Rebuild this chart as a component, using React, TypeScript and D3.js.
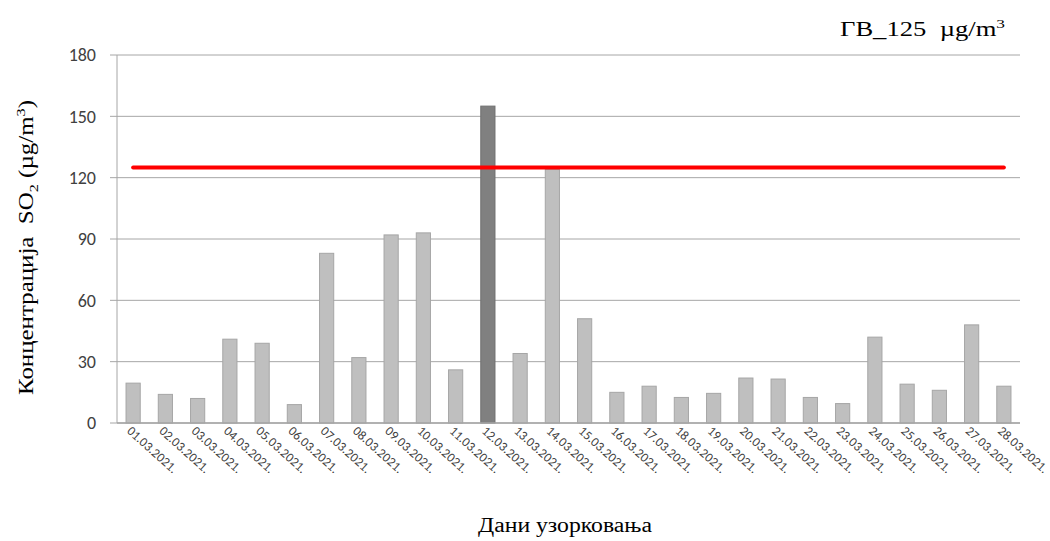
import React from "react";
import * as d3 from "d3";

const dates = [
  "01.03.2021.", "02.03.2021.", "03.03.2021.", "04.03.2021.", "05.03.2021.", "06.03.2021.", "07.03.2021.",
  "08.03.2021.", "09.03.2021.", "10.03.2021.", "11.03.2021.", "12.03.2021.", "13.03.2021.", "14.03.2021.",
  "15.03.2021.", "16.03.2021.", "17.03.2021.", "18.03.2021.", "19.03.2021.", "20.03.2021.", "21.03.2021.",
  "22.03.2021.", "23.03.2021.", "24.03.2021.", "25.03.2021.", "26.03.2021.", "27.03.2021.", "28.03.2021.",
];
const so2 = [19.5, 14, 12, 41, 39, 9, 83, 32, 92, 93, 26, 155, 34, 124, 51, 15, 18, 12.5, 14.5, 22, 21.5, 12.5, 9.5, 42, 19, 16, 48, 18];
const highlighted = ["12.03.2021."];
const limitValue = 125;
const yTicks = [0, 30, 60, 90, 120, 150, 180];

export default function App() {
  const W = 1050, H = 541;
  const left = 117, right = 1020, top = 55, bottom = 423;
  const x = d3.scaleBand<string>().domain(dates).range([left, right]).paddingInner(0.56).paddingOuter(0.28);
  const y = d3.scaleLinear().domain([0, 180]).range([bottom, top]);
  const line = d3.line<string>().x((d) => (x(d) as number) + x.bandwidth() / 2).y(() => y(limitValue));
  const grid = "#a6a6a6";
  const serif = "'Liberation Serif', 'Times New Roman', serif";
  const sans = "Carlito, 'Liberation Sans', Arial, sans-serif";
  return (
    <svg width={W} height={H} style={{ position: "absolute", left: 0, top: 0, background: "#fff" }}>
      {yTicks.map((t) => (
        <g key={t}>
          <line x1={left - 7} x2={right} y1={y(t)} y2={y(t)} stroke={grid} strokeWidth={1} />
          <text x={96} y={y(t)} dy="0.35em" textAnchor="end" fontFamily={sans} fontSize={18} fill="#404040">
            {t}
          </text>
        </g>
      ))}
      <line x1={left} x2={left} y1={top} y2={bottom} stroke={grid} strokeWidth={1} />
      {dates.map((d, i) => (
        <rect
          key={d}
          x={x(d)}
          y={y(so2[i])}
          width={x.bandwidth()}
          height={bottom - y(so2[i])}
          fill={highlighted.includes(d) ? "#808080" : "#bfbfbf"}
          stroke={highlighted.includes(d) ? "#707070" : "#a6a6a6"}
          strokeWidth={1}
        />
      ))}
      <line x1={left} x2={right} y1={bottom} y2={bottom} stroke={grid} strokeWidth={1.5} />
      <path d={line(dates) || ""} stroke="#ff0000" strokeWidth={4} fill="none" strokeLinecap="round" />
      {dates.map((d) => {
        const cx = (x(d) as number) + x.bandwidth() / 2;
        return (
          <text
            key={d}
            transform={`translate(${cx - 7},${bottom + 9}) rotate(42)`}
            fontFamily={sans}
            fontSize={13}
            fill="#404040"
          >
            {d}
          </text>
        );
      })}
      <text
        x={840}
        y={36}
        textLength={165}
        lengthAdjust="spacingAndGlyphs"
        fontFamily={serif}
        fontSize={20}
        fill="#000"
        style={{ whiteSpace: "pre" }}
      >
        {"ГВ_125  µg/m"}<tspan dy={-8} fontSize={13}>3</tspan>
      </text>
      <text
        transform={`translate(33,395) rotate(-90)`}
        textLength={295}
        lengthAdjust="spacingAndGlyphs"
        fontFamily={serif}
        fontSize={20}
        fill="#000"
        style={{ whiteSpace: "pre" }}
      >
        {"Концентрација  SO"}<tspan dy={5} fontSize={13}>2</tspan>
        <tspan dy={-5}>{" (µg/m"}</tspan>
        <tspan dy={-8} fontSize={13}>3</tspan>
        <tspan dy={8}>)</tspan>
      </text>
      <text x={478} y={532} textLength={174} lengthAdjust="spacingAndGlyphs" fontFamily={serif} fontSize={20} fill="#000">
        Дани узорковања
      </text>
    </svg>
  );
}
